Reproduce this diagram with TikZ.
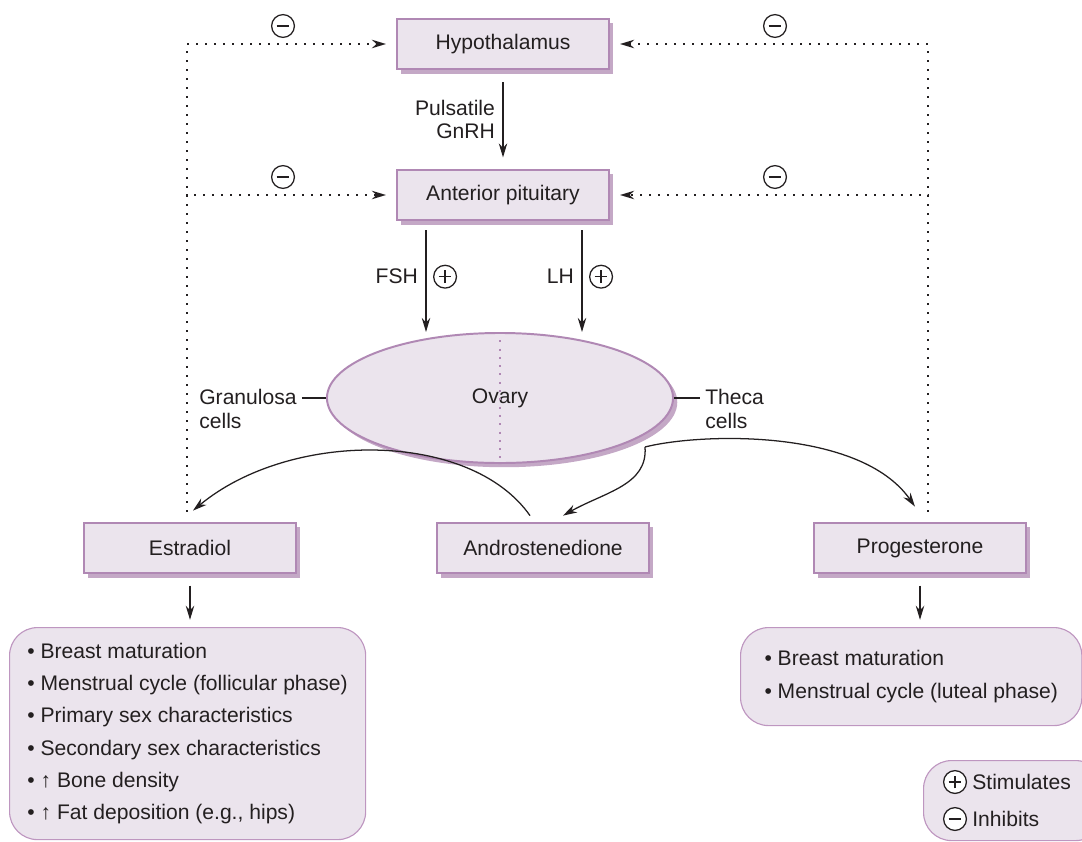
\documentclass[tikz,border=0pt]{standalone}
\usepackage{fontspec}
\setmainfont{Liberation Sans}
\usepackage{tikz}
\usetikzlibrary{arrows.meta,shapes.geometric,shadows}
\definecolor{boxfill}{RGB}{235,228,237}
\definecolor{boxline}{RGB}{176,136,180}
\definecolor{boxshade}{RGB}{196,168,198}
\definecolor{fxline}{RGB}{190,150,192}
\definecolor{ink}{RGB}{35,31,32}

\begin{document}
\begin{tikzpicture}[>={Stealth[length=10pt,width=6pt]},x=0.025cm,y=-0.025cm,
  color=ink,font=\fontsize{15}{17}\selectfont,line width=0.9pt,
  hormone/.style={draw=boxline,line width=1.4pt,fill=boxfill,minimum width=5.3cm,minimum height=1.27cm,
    drop shadow={shadow xshift=3pt,shadow yshift=-3pt,fill=boxshade,opacity=1}},
  ovary/.style={ellipse,draw=boxline,line width=1.4pt,fill=boxfill,minimum width=8.65cm,minimum height=3.25cm,
    drop shadow={shadow xshift=3pt,shadow yshift=-3pt,fill=boxshade,opacity=1}},
  effects/.style={draw=fxline,line width=0.8pt,fill=boxfill,rounded corners=0.7cm,align=left,
    anchor=north west,font=\fontsize{15}{23}\selectfont},
  sign/.style={circle,draw,solid,line width=0.9pt,fill=white,minimum size=0.57cm,inner sep=0pt},
  inhsign/.style={sign,path picture={\draw[-,line width=0.9pt,shorten <=0pt,shorten >=0pt]
    ([xshift=-0.16cm]path picture bounding box.center) -- ([xshift=0.16cm]path picture bounding box.center);}},
  stimsign/.style={sign,path picture={\draw[-,line width=0.9pt,shorten <=0pt,shorten >=0pt]
    ([xshift=-0.16cm]path picture bounding box.center) -- ([xshift=0.16cm]path picture bounding box.center)
    ([yshift=-0.16cm]path picture bounding box.center) -- ([yshift=0.16cm]path picture bounding box.center);}},
  feedback/.style={line width=1.4pt,dash pattern=on 1.4pt off 5pt,shorten <=0.25cm,shorten >=0.25cm}]
\useasboundingbox (0,0) rectangle (1082,841);

\node[hormone] (hypo) at (503,44) {Hypothalamus};
\node[hormone] (pit) at (503,195) {Anterior pituitary};
\node[ovary] (ov) at (500,398) {Ovary};
\draw[boxline,line width=1.4pt,dash pattern=on 1.4pt off 4.5pt] (ov.north) -- (ov.south);
\node[hormone] (estr) at (190,548) {Estradiol};
\node[hormone] (andro) at (543,548) {Androstenedione};
\node[hormone] (prog) at (920,548) {Progesterone};

\coordinate (lx) at (187,45); \coordinate (rx) at (928,45);
\coordinate (fx) at (426,0); \coordinate (lhx) at (582,0);
\coordinate (thout) at (645,447);

% negative feedback loops
\draw[feedback,->] (estr.north -| lx) |- (hypo.west);
\draw[feedback,->] (estr.north -| lx) |- (pit.west);
\draw[feedback,->] (prog.north -| rx) |- (hypo.east);
\draw[feedback,->] (prog.north -| rx) |- (pit.east);
\node[inhsign] (n1) at (283,26) {}; \node[inhsign] (n2) at (775,26) {};
\node[inhsign] (n3) at (283,177) {}; \node[inhsign] (n4) at (775,177) {};

\draw[->,shorten <=0.3cm,shorten >=0.28cm] (hypo) -- (pit)
  node[midway,left=2pt,align=right] (gnrh) {Pulsatile\\GnRH};
\draw[->,shorten <=0.22cm] (pit.south -| fx) -- (ov.north -| fx)
  node[midway,left=2pt] (fsh) {FSH} node[midway,right=5pt,stimsign] (s1) {};
\draw[->,shorten <=0.22cm] (pit.south -| lhx) -- (ov.north -| lhx)
  node[midway,left=2pt] (lh) {LH} node[midway,right=5pt,stimsign] (s2) {};

\node[anchor=west,align=left] (gran) at (194,409) {Granulosa\\cells};
\node[anchor=west,align=left] (theca) at (700,409) {Theca\\cells};
\draw (gran.east |- ov.west) -- (ov.west);
\draw (ov.east) -- (theca.west |- ov.east);

% steroid flow
\draw[->] ([shift={(-13,-6)}]andro.north) .. controls (470,430) and (290,430) .. ([shift={(3,-11)}]estr.north);
\draw[->] (thout) .. controls (648,485) and (605,492) .. ([shift={(20,-6)}]andro.north);
\draw[->] (thout) .. controls (700,433) and (860,428) .. ([shift={(-5,-15)}]prog.north);

\node[effects,minimum width=8.9cm,minimum height=5.3cm] (estfx) at (9,627)
  {• Breast maturation\\• Menstrual cycle (follicular phase)\\• Primary sex characteristics\\
   • Secondary sex characteristics\\• ↑ Bone density\\• ↑ Fat deposition (e.g., hips)};
\node[effects,minimum width=8.53cm,minimum height=2.45cm] (progfx) at (740,627)
  {• Breast maturation\\• Menstrual cycle (luteal phase)};
\draw[->,shorten <=0.28cm,shorten >=0.18cm] (estr.south) -- (estfx.north -| estr.south);
\draw[->,shorten <=0.28cm,shorten >=0.18cm] (prog.south) -- (progfx.north -| prog.south);

\node[effects,minimum width=4.5cm,minimum height=2cm] (legend) at (923,760) {};
\node[stimsign] (ls) at (955,782) {}; \node[anchor=west] (lstxt) at (ls.east) {Stimulates};
\node[inhsign] (li) at (955,819) {}; \node[anchor=west] (litxt) at (li.east) {Inhibits};
\end{tikzpicture}
\end{document}
